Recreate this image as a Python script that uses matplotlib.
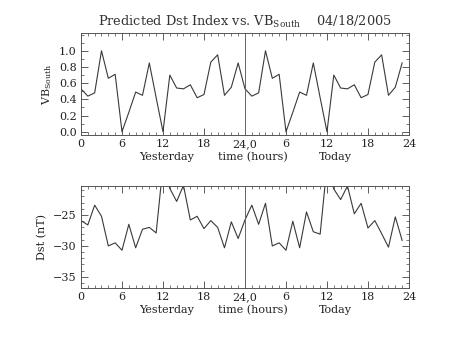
import numpy as np
import matplotlib
matplotlib.use("Agg")
import matplotlib.pyplot as plt
from matplotlib.ticker import FixedLocator, MultipleLocator

plt.rcParams['font.family'] = ['DejaVu Serif']
plt.rcParams['mathtext.fontset'] = 'dejavuserif'

# hours across yesterday + today
hours = np.arange(48)

# VB_South, one value per hour (same daily pattern repeated)
vb_day = [0.53, 0.44, 0.48, 1.00, 0.66, 0.71, 0.00, 0.24, 0.49, 0.45,
          0.85, 0.42, 0.00, 0.70, 0.54, 0.53, 0.58, 0.42, 0.46, 0.86,
          0.95, 0.45, 0.55, 0.85]
vb_south = vb_day + vb_day

# predicted Dst (nT)
dst = [-25.9, -26.6, -23.4, -25.2, -30.0, -29.5, -30.7, -26.5, -30.3, -27.3,
       -27.0, -27.9, -17.0, -20.7, -22.8, -20.2, -25.8, -25.2, -27.2, -25.9,
       -27.0, -30.3, -26.1, -28.8,
       -25.8, -23.4, -26.5, -23.1, -30.0, -29.5, -30.7, -26.0, -30.3, -24.5,
       -27.7, -28.1, -17.0, -20.8, -22.5, -20.3, -24.8, -23.1, -27.1, -25.9,
       -28.0, -30.2, -25.3, -29.1]

xticks = [0, 6, 12, 18, 24, 30, 36, 42, 48]
xticklabels = ['0', '6', '12', '18', '24,0', '6', '12', '18', '24']

line_col = '#3a3a3a'
fig = plt.figure(figsize=(4.53, 3.4), dpi=100)
ax1 = fig.add_axes([0.1788, 0.603, 0.724, 0.30])
ax2 = fig.add_axes([0.1788, 0.153, 0.724, 0.30])


def style_axis(ax):
    ax.set_xlim(0, 48)
    ax.xaxis.set_major_locator(FixedLocator(xticks))
    ax.set_xticklabels(xticklabels)
    ax.xaxis.set_minor_locator(MultipleLocator(1))
    ax.tick_params(which='both', direction='in', top=True, right=True,
                   labelsize=8, colors='#444444', labelcolor='#222222')
    ax.tick_params(which='major', length=5, width=0.6, pad=3)
    ax.tick_params(which='minor', length=2.5, width=0.5)
    for s in ax.spines.values():
        s.set_color('#555555')
        s.set_linewidth(0.7)
    ax.axvline(24, color='#666666', lw=0.7)
    for xpos, lab in [(12.5, 'Yesterday'), (25.2, 'time (hours)'), (37.2, 'Today')]:
        ax.text(xpos, -0.22, lab, transform=ax.get_xaxis_transform(),
                ha='center', va='center', fontsize=8, color='#222222')


ax1.plot(hours, vb_south, color=line_col, lw=0.8)
style_axis(ax1)
ax1.set_ylim(-0.04, 1.22)
ax1.yaxis.set_major_locator(FixedLocator([0.0, 0.2, 0.4, 0.6, 0.8, 1.0]))
ax1.yaxis.set_major_formatter(plt.FormatStrFormatter('%.1f'))
ax1.yaxis.set_minor_locator(MultipleLocator(0.1))
ax1.set_ylabel(r'VB$_{\mathrm{South}}$', fontsize=8, color='#222222', labelpad=4)
ax1.set_title(r'Predicted Dst Index vs. VB$_{\mathrm{South}}$    04/18/2005',
              fontsize=9.3, color='#333333', pad=5)

ax2.plot(hours, dst, color=line_col, lw=0.8)
style_axis(ax2)
ax2.set_ylim(-36.8, -20.3)
ax2.yaxis.set_major_locator(FixedLocator([-35, -30, -25]))
ax2.yaxis.set_minor_locator(MultipleLocator(1))
ax2.set_ylabel('Dst (nT)', fontsize=8, color='#222222', labelpad=4)

fig.savefig('out.png', dpi=100)
